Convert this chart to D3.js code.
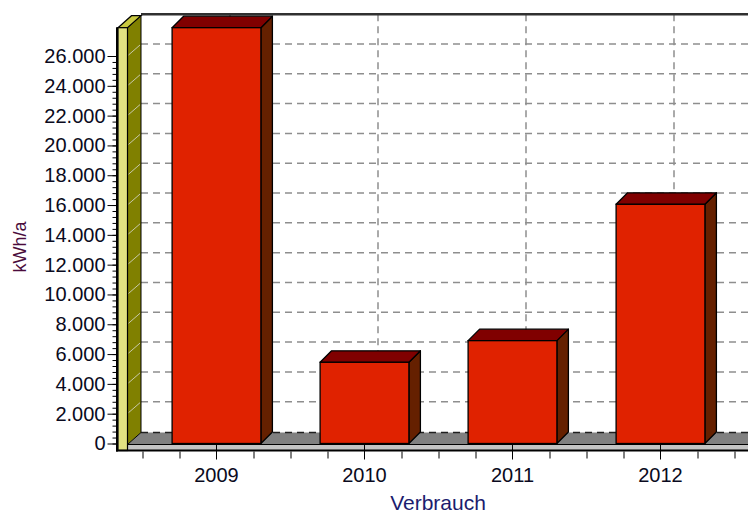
<!DOCTYPE html>
<html>
<head>
<meta charset="utf-8">
<script src="https://cdn.jsdelivr.net/npm/d3@7"></script>
<style>
  html, body { margin: 0; padding: 0; background: #fff; }
  svg { display: block; }
  text { font-family: "Liberation Sans", Arial, sans-serif; }
</style>
</head>
<body>
<svg id="chart" width="748" height="516"></svg>
<script>
// ---- data ----
const categories = ["2009", "2010", "2011", "2012"];
const values = [27900, 5450, 6900, 16050];
const yTickValues = [0, 2000, 4000, 6000, 8000, 10000, 12000, 14000, 16000, 18000, 20000, 22000, 24000, 26000];
const yAxisMax = 28000;
const xTitle = "Verbrauch";
const yTitle = "kWh/a";

// ---- layout ----
const W = 748, H = 516;
const DX = 13.5, DY = 12;      // depth of back plane
const BDX = 11.5, BDY = 11.5;  // depth of bars
const wallL = 118, wallR = 127.5;
const axisY = 450.5;

const svg = d3.select("#chart");
const locale = d3.formatLocale({decimal: ",", thousands: ".", grouping: [3], currency: ["", "€"]});
const fmt = locale.format(",d");

const y = d3.scaleLinear().domain([0, yAxisMax]).range([443.5, 26.2]);
const x = d3.scaleBand().domain(categories).range([142.5, 734.5]).paddingInner(0.4).paddingOuter(0.2);
const bw = x.bandwidth();
const xMinor = d3.scaleLinear().domain([0, categories.length]).range([142.5, 734.5]);

const gridColor = "#8e8e8e";
const backLeft = wallR + DX;
const floorBackY = y(0) - DY + 1;
const floorFrontY = y(0) + 1;

// back plane gridlines (horizontal)
svg.append("g").selectAll("line").data(yTickValues.filter(v => v > 0)).join("line")
  .attr("x1", backLeft).attr("x2", W)
  .attr("y1", d => y(d) - DY).attr("y2", d => y(d) - DY)
  .attr("stroke", gridColor).attr("stroke-width", 1.5).attr("stroke-dasharray", "7,5");

// back plane gridlines (vertical)
svg.append("g").selectAll("line").data(categories).join("line")
  .attr("x1", d => x(d) + bw / 2 + DX).attr("x2", d => x(d) + bw / 2 + DX)
  .attr("y1", y(yAxisMax) - DY).attr("y2", floorBackY)
  .attr("stroke", gridColor).attr("stroke-width", 1.5).attr("stroke-dasharray", "7,5");

// top border of back plane
svg.append("line").attr("x1", backLeft).attr("x2", W)
  .attr("y1", y(yAxisMax) - DY).attr("y2", y(yAxisMax) - DY)
  .attr("stroke", "#303030").attr("stroke-width", 2.5);

// floor top face
svg.append("path")
  .attr("d", `M${wallR},${floorFrontY} L${backLeft},${floorBackY} L${W},${floorBackY} L${W},${floorFrontY} Z`)
  .attr("fill", "#808080");
svg.append("line").attr("x1", backLeft).attr("x2", W).attr("y1", floorBackY).attr("y2", floorBackY)
  .attr("stroke", "#202020").attr("stroke-width", 1.5).attr("stroke-dasharray", "7,5");
svg.append("line").attr("x1", wallR).attr("x2", W).attr("y1", floorFrontY).attr("y2", floorFrontY)
  .attr("stroke", "#000").attr("stroke-width", 1);
// floor front face
svg.append("rect").attr("x", wallR).attr("y", floorFrontY + 0.5).attr("width", W - wallR).attr("height", axisY - floorFrontY - 1)
  .attr("fill", "#c4c4c4");

// left wall side face
svg.append("path")
  .attr("d", `M${wallR},${y(yAxisMax) + 1.5} L${backLeft},${y(yAxisMax) - DY + 1.5} L${backLeft},${floorBackY} L${wallR},${floorFrontY} Z`)
  .attr("fill", "#808000").attr("stroke", "#000").attr("stroke-width", 1);
// wall gridlines
svg.append("g").selectAll("line").data(yTickValues.filter(v => v > 0)).join("line")
  .attr("x1", wallR + 1).attr("x2", backLeft - 1)
  .attr("y1", d => y(d) - 1).attr("y2", d => y(d) - DY + 1)
  .attr("stroke", "#c8c8a8").attr("stroke-width", 1);
// wall top face
svg.append("path")
  .attr("d", `M${wallL},${y(yAxisMax) + 1.5} L${wallL + DX},${y(yAxisMax) - DY + 1.5} L${backLeft},${y(yAxisMax) - DY + 1.5} L${wallR},${y(yAxisMax) + 1.5} Z`)
  .attr("fill", "#c8c840").attr("stroke", "#000").attr("stroke-width", 1.2);
// wall front face
svg.append("rect").attr("x", wallL).attr("y", y(yAxisMax) + 1.5).attr("width", wallR - wallL).attr("height", axisY - y(yAxisMax) - 1.5)
  .attr("fill", "#e2e282").attr("stroke", "#000").attr("stroke-width", 1.2);

// bars
const bars = svg.append("g").selectAll("g").data(categories.map((c, i) => ({c, v: values[i]}))).join("g");
const y0 = y(0);
bars.append("path") // side
  .attr("d", d => { const x1 = x(d.c) + bw, yt = y(d.v);
    return `M${x1},${yt} L${x1 + BDX},${yt - BDY} L${x1 + BDX},${y0 - BDY} L${x1},${y0} Z`; })
  .attr("fill", "#652000").attr("stroke", "#000").attr("stroke-width", 1.3).attr("stroke-linejoin", "round");
bars.append("path") // top
  .attr("d", d => { const x0 = x(d.c), yt = y(d.v);
    return `M${x0},${yt} L${x0 + BDX},${yt - BDY} L${x0 + bw + BDX},${yt - BDY} L${x0 + bw},${yt} Z`; })
  .attr("fill", "#800000").attr("stroke", "#000").attr("stroke-width", 1.3).attr("stroke-linejoin", "round");
bars.append("rect") // front
  .attr("x", d => x(d.c)).attr("y", d => y(d.v))
  .attr("width", bw).attr("height", d => y0 - y(d.v))
  .attr("fill", "#e02200").attr("stroke", "#000").attr("stroke-width", 1.3);

// y axis
const minorY = d3.range(0, 26001, 400);
const gMinorY = svg.append("g").attr("transform", `translate(116.5,0)`)
  .call(d3.axisLeft(y).tickValues(minorY).tickSize(4).tickFormat(""));
gMinorY.select(".domain").remove();
const gY = svg.append("g").attr("transform", `translate(116.5,0)`)
  .call(d3.axisLeft(y).tickValues(yTickValues).tickSize(9).tickPadding(2).tickFormat(fmt));
gY.select(".domain").remove();
svg.selectAll("g.tick line").attr("stroke", "#000").attr("stroke-width", 1);
gY.selectAll("text").attr("font-size", 20).attr("fill", "#0a0a20")
  .style("font-family", '"Liberation Sans", Arial, sans-serif');
svg.append("line").attr("x1", 117).attr("x2", 117).attr("y1", y(yAxisMax) + 1).attr("y2", axisY + 1)
  .attr("stroke", "#000").attr("stroke-width", 2);

// x axis
const minorX = d3.range(0, categories.length + 0.01, 0.25).filter(v => Math.abs((v % 1) - 0.5) > 0.01);
const gMinorX = svg.append("g").attr("transform", `translate(0,${axisY + 1})`)
  .call(d3.axisBottom(xMinor).tickValues(minorX).tickSize(7).tickFormat(""));
gMinorX.select(".domain").remove();
gMinorX.selectAll("line").attr("stroke", "#000");
const gX = svg.append("g").attr("transform", `translate(0,${y0})`)
  .call(d3.axisBottom(x).tickSize(16).tickPadding(8));
gX.select(".domain").remove();
gX.selectAll("line").attr("stroke", "#000");
gX.selectAll("text").attr("font-size", 20).attr("fill", "#0a0a20")
  .style("font-family", '"Liberation Sans", Arial, sans-serif');
svg.append("line").attr("x1", 116).attr("x2", W).attr("y1", axisY).attr("y2", axisY)
  .attr("stroke", "#000").attr("stroke-width", 2.2);

// titles
svg.append("text").attr("x", 438).attr("y", 510).attr("text-anchor", "middle")
  .attr("font-size", 21).attr("fill", "#1c1c6e").text(xTitle);
svg.append("text").attr("transform", "translate(26,247) rotate(-90)").attr("text-anchor", "middle")
  .attr("font-size", 18).attr("fill", "#4a0c3c").text(yTitle);
</script>
</body>
</html>
